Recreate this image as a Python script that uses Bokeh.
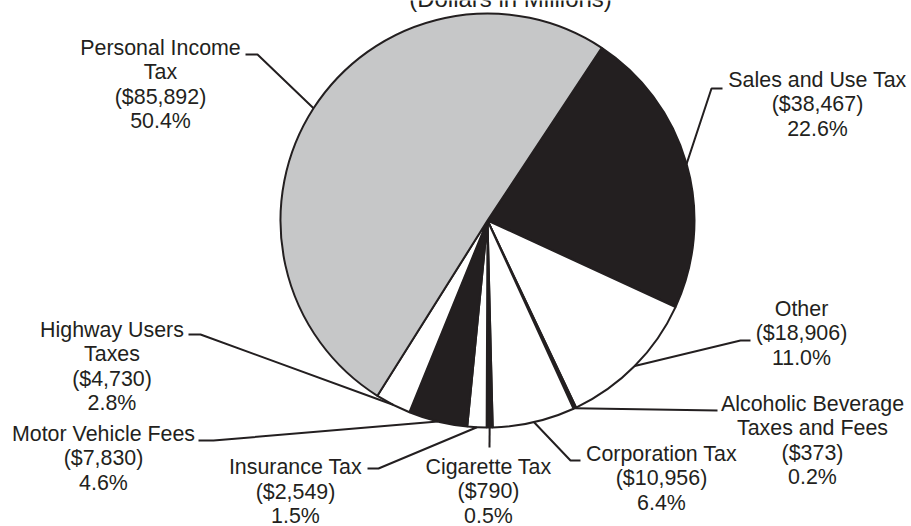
import math
from bokeh.plotting import figure
from bokeh.models import Range1d
from bokeh.core.properties import value
from bokeh.embed import file_html
from bokeh.resources import INLINE

# ---------------- data ----------------
categories = ["Sales and Use Tax", "Other", "Alcoholic Beverage Taxes and Fees",
              "Corporation Tax", "Cigarette Tax", "Insurance Tax",
              "Motor Vehicle Fees", "Highway Users Taxes", "Personal Income Tax"]
label_lines = [["Sales and Use Tax"], ["Other"], ["Alcoholic Beverage", "Taxes and Fees"],
               ["Corporation Tax"], ["Cigarette Tax"], ["Insurance Tax"],
               ["Motor Vehicle Fees"], ["Highway Users", "Taxes"], ["Personal Income", "Tax"]]
amounts = [38467, 18906, 373, 10956, 790, 2549, 7830, 4730, 85892]
percent_labels = ["22.6%", "11.0%", "0.2%", "6.4%", "0.5%", "1.5%", "4.6%", "2.8%", "50.4%"]
slice_colors = ["#231f20", "#ffffff", "#231f20", "#ffffff", "#231f20",
                "#ffffff", "#231f20", "#ffffff", "#c6c7c8"]
title_text = "(Dollars in Millions)"

# ---------------- layout (pixels, y measured from top) ----------------
W, H = 911, 526
CX, CY = 487, 220
R = 207
START_DEG = 56.5
FONT = "Liberation Sans"
FONT_SIZE = "21.4px"
LINE_H = 24.5
INK = "#231f20"

label_pos = [(817, 79), (801, 308), (812, 403), (661, 453), (488, 466),
             (295, 466.5), (103, 433), (111.5, 329), (160, 47)]
leader_pts = [[(711, 88), (722, 88)], [(740, 340), (750, 340)], [(717, 410)],
              [(570, 460), (580, 460)], [(489, 447)], [(378, 468), (367, 468)],
              [(213, 440), (198, 440)], [(200, 334), (188, 334)], [(257, 54), (245, 54)]]


def Y(py):
    return H - py


total = float(sum(amounts))
starts, ends, mids = [], [], []
acc = 0.0
for a in amounts:
    s = START_DEG - acc / total * 360.0
    acc += a
    e = START_DEG - acc / total * 360.0
    starts.append(math.radians(s))
    ends.append(math.radians(e))
    mids.append(math.radians((s + e) / 2))

p = figure(width=W, height=H, output_backend="svg", toolbar_location=None,
           x_range=Range1d(0, W), y_range=Range1d(0, H),
           x_axis_type=None, y_axis_type=None, min_border=0,
           outline_line_color=None, background_fill_color="white",
           border_fill_color="white")
p.grid.visible = False

p.wedge(x=[CX] * len(amounts), y=[Y(CY)] * len(amounts), radius=R,
        start_angle=starts, end_angle=ends, direction="clock",
        fill_color=slice_colors, line_color=INK, line_width=2)

# leader lines
xs, ys = [], []
for m, pts in zip(mids, leader_pts):
    x0 = CX + R * math.cos(m)
    y0 = Y(CY) + R * math.sin(m)
    lx = [x0] + [q[0] for q in pts]
    ly = [y0] + [Y(q[1]) for q in pts]
    xs.append(lx)
    ys.append(ly)
p.multi_line(xs=xs, ys=ys, line_color=INK, line_width=2)

# labels
tx, ty, tt = [], [], []
for i in range(len(amounts)):
    lines = label_lines[i] + ["(${:,})".format(amounts[i]), percent_labels[i]]
    cx, cy = label_pos[i]
    for k, t in enumerate(lines):
        tx.append(cx)
        ty.append(Y(cy + k * LINE_H))
        tt.append(t)
p.text(x=tx, y=ty, text=tt, text_align="center", text_baseline="middle",
       text_font=value(FONT), text_font_size=FONT_SIZE, text_color=INK)

# title (partly clipped at the top)
p.text(x=[510], y=[Y(-2)], text=[title_text], text_align="center",
       text_baseline="alphabetic", text_font=value(FONT), text_font_size="24px",
       text_color=INK)

open("out.html", "w").write(file_html(p, INLINE))
